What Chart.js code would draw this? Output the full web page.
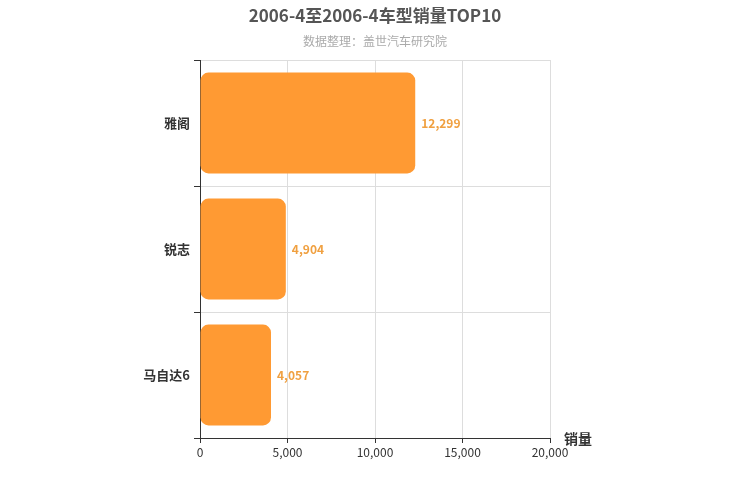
<!DOCTYPE html>
<html><head><meta charset="utf-8">
<script src="https://cdn.jsdelivr.net/npm/chart.js@4"></script>
<style>body{margin:0;background:#fff}#w{width:750px;height:500px}</style>
</head><body><div id="w"><canvas id="c"></canvas></div>
<script>
const categories = ['雅阁','锐志','马自达6'];
const sales = [12299, 4904, 4057];
const xTicks = [0, 5000, 10000, 15000, 20000];
const FONT = '"Noto Sans CJK SC", "Liberation Sans", sans-serif';
const fmt = v => v.toLocaleString('en-US');
const textPlugin = {
  id: 'texts',
  afterDraw(chart) {
    const ctx = chart.ctx, a = chart.chartArea;
    ctx.save();
    ctx.textAlign = 'center'; ctx.textBaseline = 'middle';
    ctx.fillStyle = '#555'; ctx.font = 'bold 17px ' + FONT;
    ctx.fillText('2006-4至2006-4车型销量TOP10', 375, 16);
    ctx.fillStyle = '#aaa'; ctx.font = '12px ' + FONT;
    ctx.fillText('数据整理：盖世汽车研究院', 375, 41);
    ctx.fillStyle = '#333'; ctx.font = 'bold 14px ' + FONT; ctx.textAlign = 'left';
    ctx.fillText('销量', a.right + 14, a.bottom + 1);
    const meta = chart.getDatasetMeta(0);
    ctx.fillStyle = '#f0a040'; ctx.font = 'bold 12px ' + FONT;
    meta.data.forEach((b, i) => ctx.fillText(fmt(sales[i]), b.x + 6, b.y));
    ctx.restore();
  }
};
new Chart(document.getElementById('c'), {
  type: 'bar',
  data: { labels: categories, datasets: [{ data: sales, backgroundColor: '#ff9a33',
    borderRadius: 8, borderSkipped: false, categoryPercentage: 0.8, barPercentage: 1 }] },
  options: {
    indexAxis: 'y', responsive: true, maintainAspectRatio: false, animation: false,
    layout: { padding: { left: 0, right: 200, top: 60, bottom: 0 } },
    plugins: { legend: { display: false }, tooltip: { enabled: false } },
    scales: {
      x: { min: 0, max: 20000, afterBuildTicks: s => { s.ticks = xTicks.map(v => ({ value: v })); },
        afterFit: s => { s.height = 62; },
        grid: { color: '#ddd', tickLength: 5, drawTicks: true, tickColor: '#333' },
        border: { color: '#333' },
        ticks: { color: '#333', font: { size: 12, family: FONT }, callback: v => fmt(v), padding: 2 } },
      y: { afterFit: s => { s.width = 200; },
        grid: { offset: true, color: '#ddd', tickLength: 6, tickColor: '#333' },
        border: { color: '#333' },
        ticks: { color: '#333', font: { size: 13, family: FONT, weight: 'bold' }, padding: 4 } }
    }
  },
  plugins: [textPlugin]
});
</script></body></html>
